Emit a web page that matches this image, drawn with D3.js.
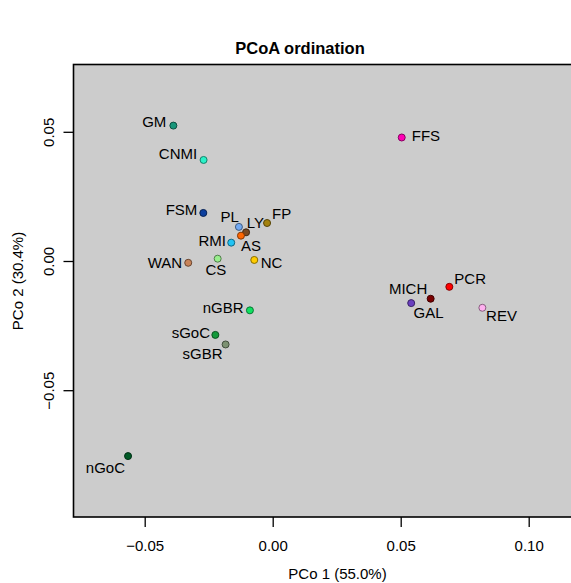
<!DOCTYPE html>
<html>
<head>
<meta charset="utf-8">
<script src="https://cdn.jsdelivr.net/npm/d3@7"></script>
<style>
  html, body { margin: 0; padding: 0; background: #ffffff; }
  svg { display: block; }
  text { font-family: "Liberation Sans", Arial, Helvetica, sans-serif; }
</style>
</head>
<body>
<div id="chart"></div>
<script>
// ---- data ----
const sites = ["GM","CNMI","FSM","PL","LY","FP","AS","RMI","CS","WAN","NC",
               "nGBR","sGoC","sGBR","nGoC","FFS","PCR","MICH","GAL","REV"];
const pco1 = [-0.0388,-0.0270,-0.0271,-0.0132,-0.0104,-0.0022,-0.0124,-0.0162,-0.0215,-0.0330,-0.0072,
              -0.0089,-0.0224,-0.0184,-0.0565,0.0504,0.0690,0.0617,0.0541,0.0819];
const pco2 = [0.0524,0.0391,0.0186,0.0132,0.0111,0.0147,0.0098,0.0071,0.0009,-0.0007,0.0004,
              -0.0191,-0.0286,-0.0323,-0.0755,0.0478,-0.0100,-0.0146,-0.0163,-0.0181];
const siteColors = ["#17967a","#2af2c8","#0c3f9e","#72a9f2","#7a4a22","#a3820e","#ff6600","#22c4f5","#98ee8c","#c8845a","#ffcc00",
                    "#10e060","#139a3a","#7d9272","#005a26","#ff00b4","#ff0000","#7a0000","#6a3fbf","#ffb0f0"];
const xTicks = [-0.05, 0.00, 0.05, 0.10];
const yTicks = [-0.05, 0.00, 0.05];
const titleText = "PCoA ordination";
const xLabel = "PCo 1 (55.0%)";
const yLabel = "PCo 2 (30.4%)";

// ---- label layout (anchor, dx px, dy px of text centre) ----
const labelLayout = [
  ["end",-7,-4.4],["end",-6.4,-6.3],["end",-6,-3.3],["end",0,-10.7],["start",0.7,-10],
  ["start",5,-9.2],["start",0,9.6],["end",-5.3,-2.4],["middle",-1.7,10.8],["end",-6,0],
  ["start",6.4,2.8],["end",-6.3,-2.6],["end",-5.3,-2.7],["end",-3,9.5],["end",-3,11.5],
  ["start",10,-1.4],["start",5,-8],["end",-3.4,-9.9],["start",2.4,9.8],["start",3.7,7.8]
];

const W = 571, H = 583;
const plot = { left: 73.5, top: 64.5, bottom: 517, right: 640 };

const x = d3.scaleLinear().domain([0, 0.05]).range([272.7, 400.7]);
const y = d3.scaleLinear().domain([0, 0.05]).range([261, 131.8]);

const svg = d3.select("#chart").append("svg").attr("width", W).attr("height", H);

// plot background + box
svg.append("rect")
  .attr("x", plot.left).attr("y", plot.top)
  .attr("width", plot.right - plot.left).attr("height", plot.bottom - plot.top)
  .attr("fill", "#cccccc").attr("stroke", "#000").attr("stroke-width", 1.6);

const fmt = d3.format(".2f");

// x axis
const xAxis = svg.append("g")
  .attr("transform", `translate(0,${plot.bottom})`)
  .call(d3.axisBottom(x).tickValues(xTicks).tickSize(10).tickPadding(13).tickFormat(fmt));
xAxis.select(".domain").remove();
xAxis.selectAll("line").attr("stroke", "#000").attr("stroke-width", 1.3);
xAxis.selectAll("text").attr("font-size", 15).attr("fill", "#000")
  .attr("font-family", "Liberation Sans, Arial, sans-serif");

// y axis
const yAxis = svg.append("g")
  .attr("transform", `translate(${plot.left},0)`)
  .call(d3.axisLeft(y).tickValues(yTicks).tickSize(10).tickFormat(fmt));
yAxis.select(".domain").remove();
yAxis.selectAll("line").attr("stroke", "#000").attr("stroke-width", 1.3);
yAxis.selectAll("text").remove();
yAxis.selectAll(".tick").append("text")
  .attr("transform", "translate(-20,0) rotate(-90)")
  .attr("text-anchor", "middle")
  .attr("font-size", 15).attr("fill", "#000")
  .text(d => fmt(d));

// titles
svg.append("text").attr("x", 300).attr("y", 54).attr("text-anchor", "middle")
  .attr("font-size", 16.5).attr("font-weight", "bold").text(titleText);
svg.append("text").attr("x", 337.5).attr("y", 579).attr("text-anchor", "middle")
  .attr("font-size", 15).text(xLabel);
svg.append("text").attr("transform", "translate(23,281) rotate(-90)").attr("text-anchor", "middle")
  .attr("font-size", 15).text(yLabel);

// points
const data = sites.map((s, i) => ({ site: s, x: pco1[i], y: pco2[i], color: siteColors[i], lab: labelLayout[i] }));

const g = svg.append("g");
g.selectAll("circle").data(data).enter().append("circle")
  .attr("cx", d => x(d.x)).attr("cy", d => y(d.y)).attr("r", 3.5)
  .attr("fill", d => d.color)
  .attr("stroke", d => d3.color(d.color).darker(1.8))
  .attr("stroke-width", 1);

g.selectAll("text.lab").data(data).enter().append("text").attr("class", "lab")
  .attr("x", d => x(d.x) + d.lab[1])
  .attr("y", d => y(d.y) + d.lab[2])
  .attr("dy", "0.36em")
  .attr("text-anchor", d => d.lab[0])
  .attr("font-size", 15).attr("fill", "#000")
  .text(d => d.site);
</script>
</body>
</html>
